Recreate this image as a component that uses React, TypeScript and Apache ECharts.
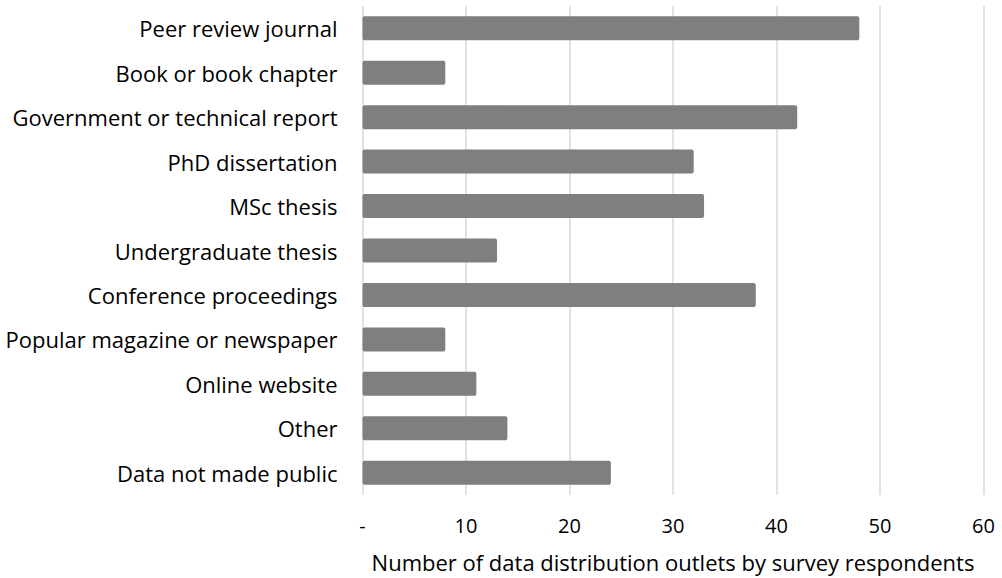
import React, { useEffect, useRef } from "react";
import * as echarts from "echarts";

const categories = [
  "Peer review journal",
  "Book or book chapter",
  "Government or technical report",
  "PhD dissertation",
  "MSc thesis",
  "Undergraduate thesis",
  "Conference proceedings",
  "Popular magazine or newspaper",
  "Online website",
  "Other",
  "Data not made public",
];

const values = [48, 8, 42, 32, 33, 13, 38, 8, 11, 14, 24];

const axisTitle = "Number of data distribution outlets by survey respondents";

const FONT = "'Open Sans', Lato, sans-serif";

export default function App() {
  const ref = useRef<HTMLDivElement>(null);
  useEffect(() => {
    document.body.style.margin = "0";
    if (!ref.current) return;
    const chart = echarts.init(ref.current, null, { renderer: "svg" });
    chart.setOption({
      animation: false,
      backgroundColor: "#ffffff",
      grid: { left: 362.5, top: 6, width: 621, height: 490, containLabel: false },
      xAxis: {
        type: "value",
        min: 0,
        max: 60,
        interval: 10,
        name: axisTitle,
        nameLocation: "middle",
        nameGap: 56,
        nameTextStyle: { fontFamily: FONT, fontSize: 22, color: "#000" },
        axisLine: { show: false },
        axisTick: { show: false },
        axisLabel: {
          margin: 20,
          fontFamily: FONT,
          fontSize: 20,
          color: "#000",
          formatter: (v: number) => (v === 0 ? "-" : String(v)),
        },
        splitLine: { show: true, lineStyle: { color: "#d9d9d9", width: 1.5 } },
      },
      yAxis: {
        type: "category",
        data: categories,
        inverse: true,
        axisLine: { show: false },
        axisTick: { show: false },
        axisLabel: { margin: 25, fontFamily: FONT, fontSize: 22, color: "#000" },
        splitLine: { show: false },
      },
      series: [
        {
          type: "bar",
          data: values,
          barWidth: 24,
          itemStyle: { color: "#7f7f7f", borderRadius: 2 },
        },
      ],
    });
    return () => chart.dispose();
  }, []);
  return (
    <div
      ref={ref}
      style={{ position: "absolute", left: 0, top: 0, width: 1002, height: 578 }}
    />
  );
}
